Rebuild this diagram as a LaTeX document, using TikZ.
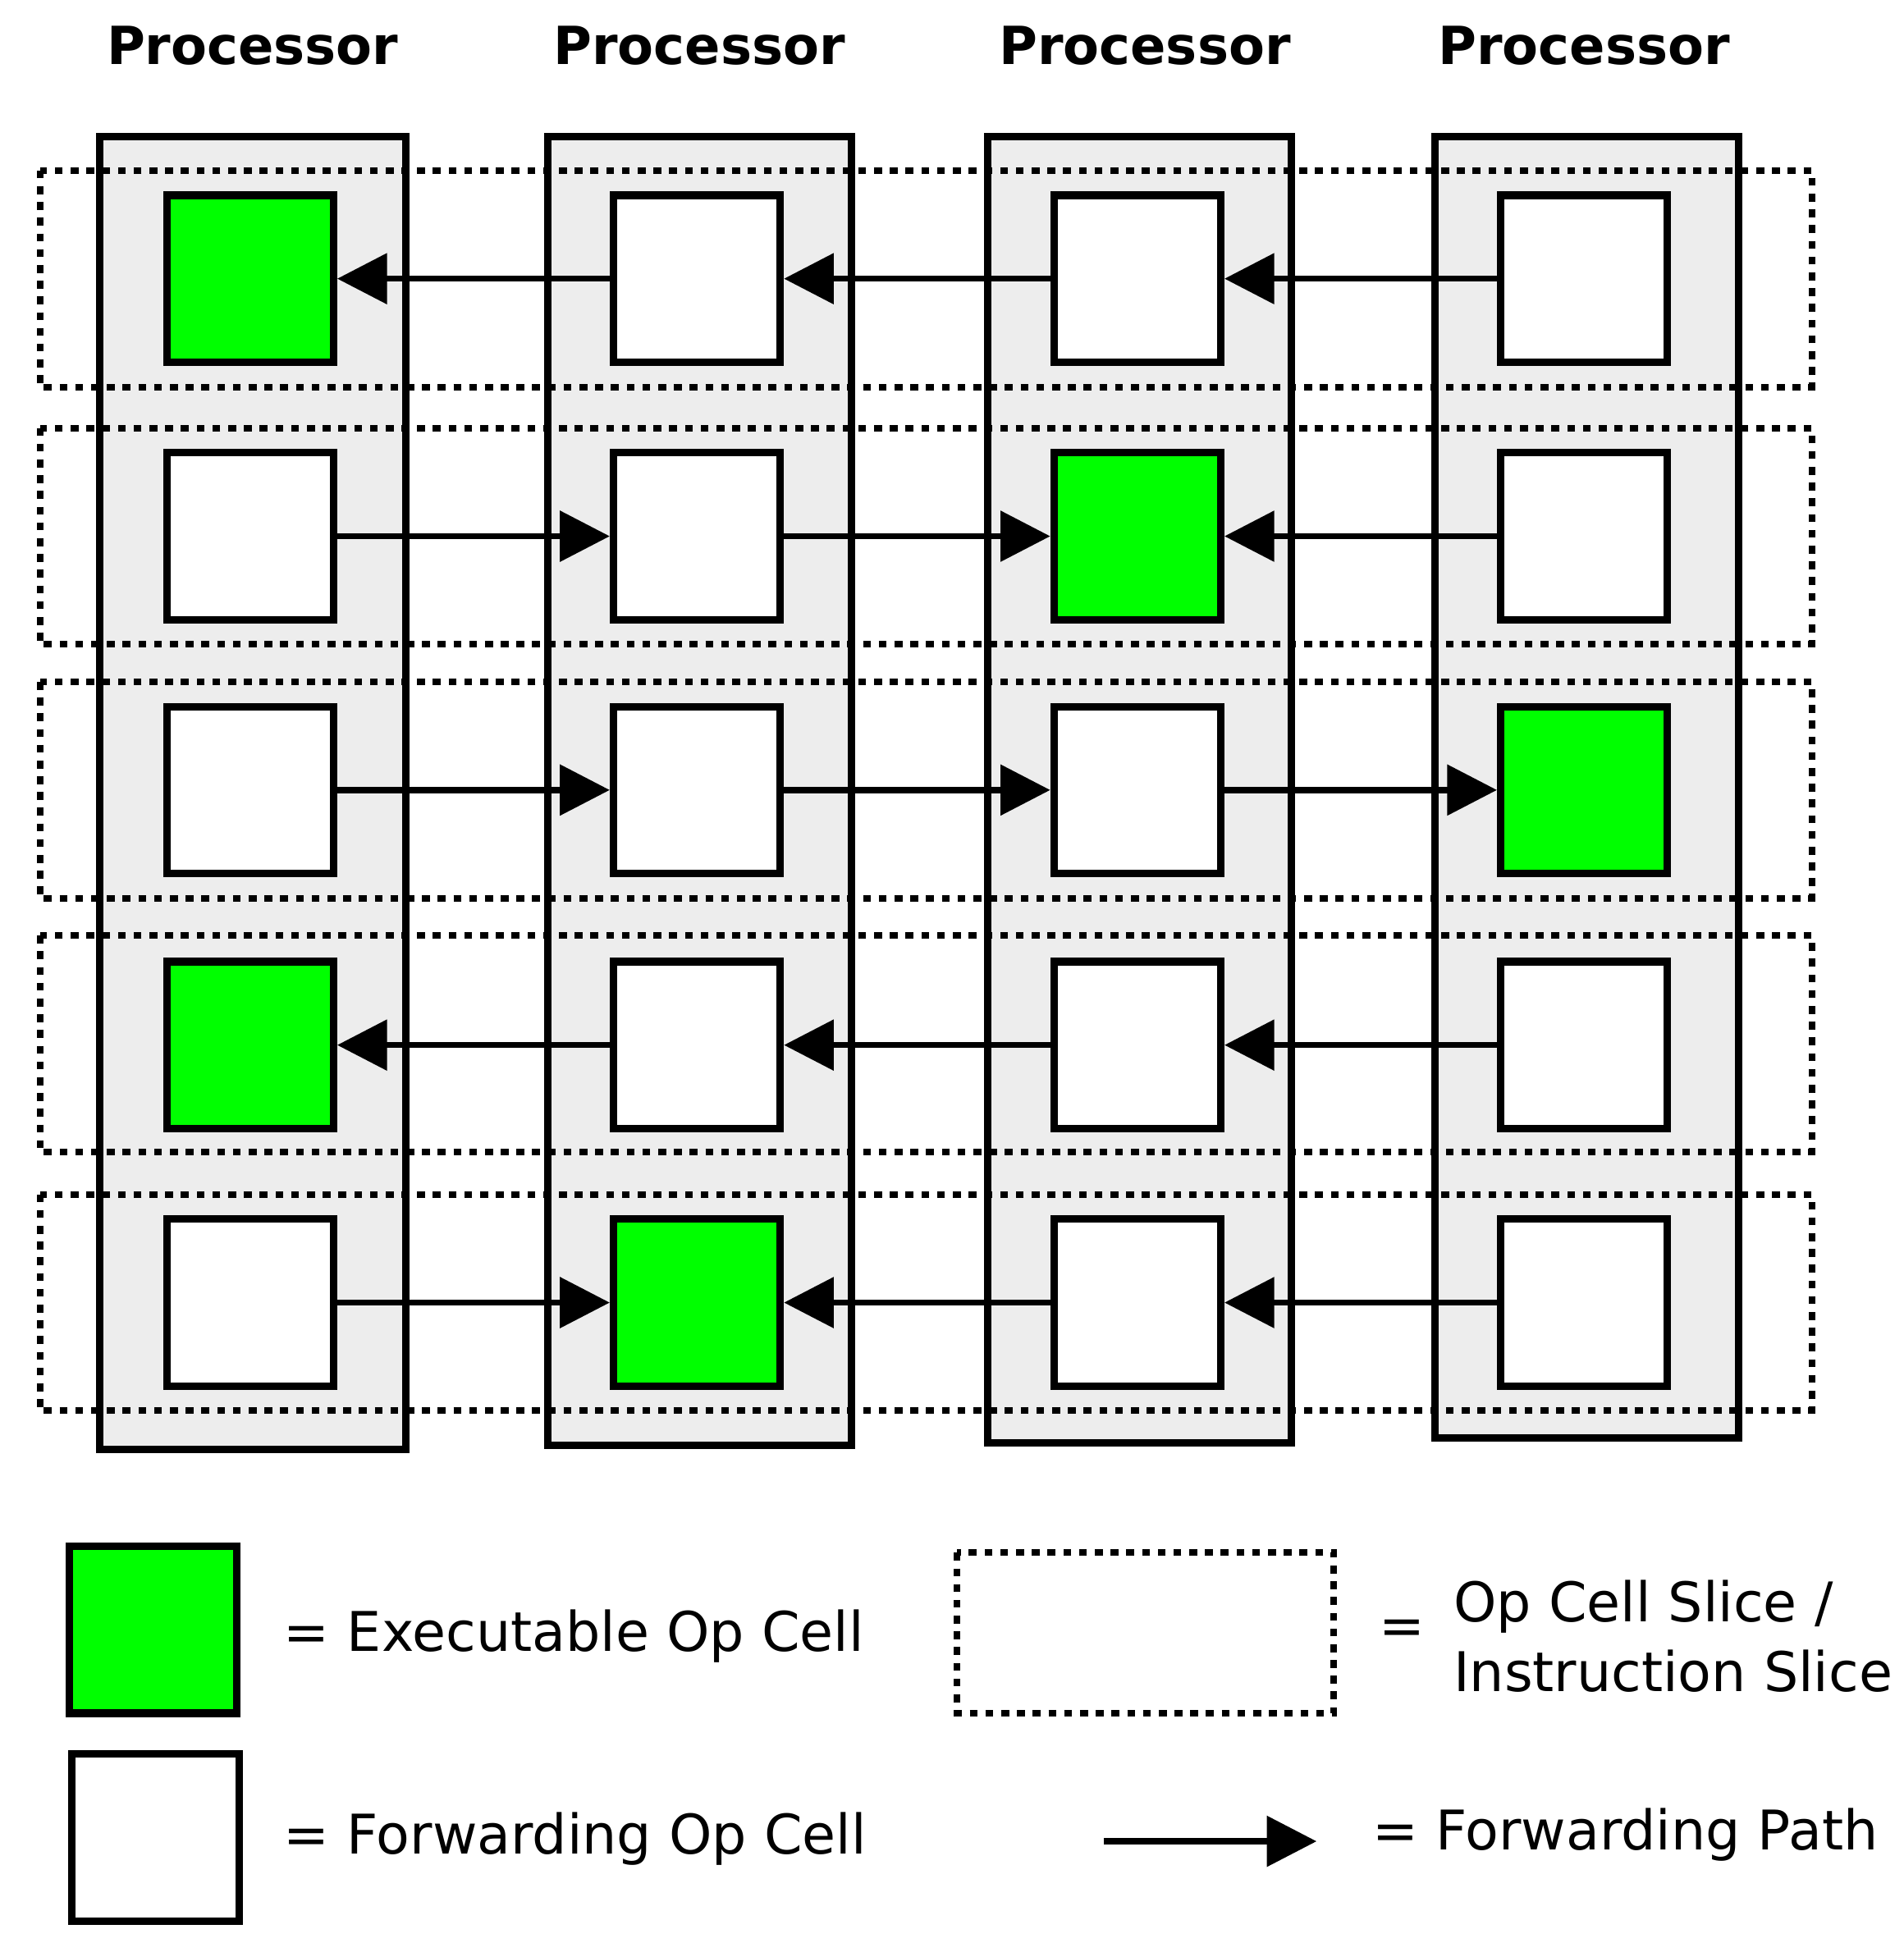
\documentclass[tikz,border=0pt]{standalone}
\usepackage{fontspec}
\setmainfont{DejaVu Sans}
\usetikzlibrary{arrows.meta,positioning}

\begin{document}
\begin{tikzpicture}[x=0.01cm,y=-0.01cm,
                    >={Triangle[length=0.4cm,width=0.4cm]},
                    thick]
  \tikzset{proc/.style={draw,line width=1.7pt,fill=black!7},
           slice/.style={draw,line width=1.5pt,dash pattern=on 1.8pt off 1.8pt},
           cell/.style={draw,line width=1.7pt,fill=white,minimum size=1.34cm,inner sep=0pt},
           exec/.style={cell,fill=green},
           fwd/.style={->,line width=1.4pt},
           title/.style={font=\fontsize{12}{14}\selectfont\bfseries},
           legend/.style={font=\fontsize{12.5}{16}\selectfont,anchor=west,align=left}}
  \useasboundingbox (0,0) rectangle (1530,1569);

  % processors
  \draw[proc] (80,110) rectangle (326,1165);
  \draw[proc] (440,110) rectangle (684,1162);
  \draw[proc] (794,110) rectangle (1038,1160);
  \draw[proc] (1153,110) rectangle (1397,1156);
  \foreach \x in {203,562,920,1273}
    \node[title] at (\x,37) {Processor};

  % slices
  \foreach \y in {137,344,548,752,960}
    \draw[slice] (32,\y) rectangle (1456,\y+174);

  % op cells
  \foreach \r/\y in {1/224,2/431,3/635,4/840,5/1047}
    \foreach \c/\x in {1/201,2/560,3/914,4/1273}
      \node[cell] (c\r\c) at (\x,\y) {};
  \foreach \r/\c in {1/1,2/3,3/4,4/1,5/2}
    \node[exec] at (c\r\c) {};

  % forwarding paths
  \draw[fwd] (c12) -- (c11);  \draw[fwd] (c13) -- (c12);  \draw[fwd] (c14) -- (c13);
  \draw[fwd] (c21) -- (c22);  \draw[fwd] (c22) -- (c23);  \draw[fwd] (c24) -- (c23);
  \draw[fwd] (c31) -- (c32);  \draw[fwd] (c32) -- (c33);  \draw[fwd] (c33) -- (c34);
  \draw[fwd] (c42) -- (c41);  \draw[fwd] (c43) -- (c42);  \draw[fwd] (c44) -- (c43);
  \draw[fwd] (c51) -- (c52);  \draw[fwd] (c53) -- (c52);  \draw[fwd] (c54) -- (c53);

  % legend
  \node[exec] (lexec) at (123,1310) {};
  \node[legend] (texec) at (215,1315) {= Executable Op Cell};
  \node[cell] (lfwd) at (125,1477) {};
  \node[legend] (tfwd) at (215,1478) {= Forwarding Op Cell};
  \draw[slice] (769,1248) rectangle (1072,1377);
  \node[legend] (eqslice) at (1095,1312) {=};
  \node[legend] (tslice) at (1155,1315) {Op Cell Slice /\\Instruction Slice};
  \coordinate (pa) at (887,1480);
  \coordinate (pb) at (1058,1480);
  \draw[fwd] (pa) -- (pb);
  \node[legend] (tpath) at (1090,1475) {= Forwarding Path};
\end{tikzpicture}
\end{document}
